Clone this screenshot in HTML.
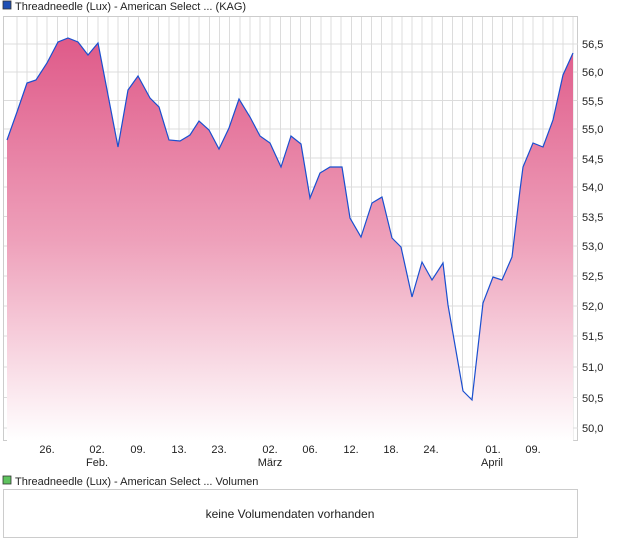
<!DOCTYPE html>
<html><head><meta charset="utf-8"><style>
body{margin:0;background:#fff;}
svg{display:block;font-family:"Liberation Sans",sans-serif;}
</style></head><body>
<svg width="620" height="546" viewBox="0 0 620 546">
<defs>
<linearGradient id="g" x1="0" y1="0" x2="0" y2="1" gradientUnits="userSpaceOnUse">
<stop offset="0" stop-color="#de5185"/>
<stop offset="0" stop-color="#de5185"/>
</linearGradient>
<linearGradient id="f" x1="0" y1="38" x2="0" y2="441" gradientUnits="userSpaceOnUse">
<stop offset="0" stop-color="#df5a89"/>
<stop offset="0.5" stop-color="#eea0ba"/>
<stop offset="1" stop-color="#ffffff"/>
</linearGradient>
</defs>
<rect x="3" y="1" width="8" height="8" fill="#1f4fb5" stroke="#333" stroke-width="0.8"/>
<text x="15" y="10" font-size="11" fill="#222">Threadneedle (Lux) - American Select ... (KAG)</text>
<rect x="3.5" y="16.5" width="574" height="424" fill="#fff" stroke="#ccc"/>
<g stroke="#dcdcdc" stroke-width="1" id="grid"></g>
<g stroke="#dcdcdc" stroke-width="1">
<line x1="4" x2="578" y1="44" y2="44"/><line x1="4" x2="578" y1="72" y2="72"/><line x1="4" x2="578" y1="100.5" y2="100.5"/><line x1="4" x2="578" y1="129" y2="129"/><line x1="4" x2="578" y1="158" y2="158"/><line x1="4" x2="578" y1="187" y2="187"/><line x1="4" x2="578" y1="216.5" y2="216.5"/><line x1="4" x2="578" y1="246" y2="246"/><line x1="4" x2="578" y1="276" y2="276"/><line x1="4" x2="578" y1="306" y2="306"/><line x1="4" x2="578" y1="336" y2="336"/><line x1="4" x2="578" y1="367" y2="367"/><line x1="4" x2="578" y1="397.5" y2="397.5"/><line x1="4" x2="578" y1="428" y2="428"/>
</g>
<g stroke="#dcdcdc" stroke-width="1">
<script>/*static*/</script>
</g>
<g stroke="#dcdcdc">
<path d="M17 17V441M27 17V441M37 17V441M47 17V441M57.5 17V441M67.5 17V441M77.5 17V441M87.5 17V441M98 17V441M108 17V441M118 17V441M128.5 17V441M138.5 17V441M148.5 17V441M158.5 17V441M169 17V441M179 17V441M189 17V441M199 17V441M209.5 17V441M219.5 17V441M229.5 17V441M240 17V441M250 17V441M260 17V441M270 17V441M280.5 17V441M290.5 17V441M300.5 17V441M310.5 17V441M321 17V441M331 17V441M341 17V441M351.5 17V441M361.5 17V441M371.5 17V441M381.5 17V441M392 17V441M402 17V441M412 17V441M422 17V441M432 17V441M442.5 17V441M452.5 17V441M462.5 17V441M472.5 17V441M482.5 17V441M492.5 17V441M502.5 17V441M512.5 17V441M523 17V441M533 17V441M543 17V441M553 17V441M563 17V441M573 17V441"/>
</g>
<path fill="url(#f)" d="M7 441L7 140L17 112L27 83L36 80L47 63L58 42L68 38L78 42L88 55L98 43L118 147L128 90L138 76L150 98L159 107L169 140L180 141L190 135L199 121L209 130L219 149L229 128L239 99L250 117L260 136L270 143L281 167L291 136L301 144L310 198L320 173L330 167L342 167L350 218L361 237L372 203L382 197L392 238L401 247L412 297L422 262L432 280L443 263L448 305L463 391L472 400L483 303L493 277L502 280L512 257L520 190L523 167L533 143L543 147L553 120L563 75L573 53L573 441Z"/>
<polyline fill="none" stroke="#1a4fcf" stroke-width="1.2" points="7,140 17,112 27,83 36,80 47,63 58,42 68,38 78,42 88,55 98,43 118,147 128,90 138,76 150,98 159,107 169,140 180,141 190,135 199,121 209,130 219,149 229,128 239,99 250,117 260,136 270,143 281,167 291,136 301,144 310,198 320,173 330,167 342,167 350,218 361,237 372,203 382,197 392,238 401,247 412,297 422,262 432,280 443,263 448,305 463,391 472,400 483,303 493,277 502,280 512,257 520,190 523,167 533,143 543,147 553,120 563,75 573,53"/>
<g font-size="11" fill="#222">
<text x="582" y="48">56,5</text><text x="582" y="76">56,0</text><text x="582" y="105">55,5</text><text x="582" y="133">55,0</text><text x="582" y="163">54,5</text><text x="582" y="191">54,0</text><text x="582" y="221">53,5</text><text x="582" y="250">53,0</text><text x="582" y="280">52,5</text><text x="582" y="310">52,0</text><text x="582" y="340">51,5</text><text x="582" y="371">51,0</text><text x="582" y="402">50,5</text><text x="582" y="432">50,0</text>
</g>
<g font-size="11" fill="#222" text-anchor="middle">
<text x="47" y="453">26.</text><text x="97" y="453">02.</text><text x="138" y="453">09.</text><text x="179" y="453">13.</text><text x="219" y="453">23.</text><text x="270" y="453">02.</text><text x="310" y="453">06.</text><text x="351" y="453">12.</text><text x="391" y="453">18.</text><text x="431" y="453">24.</text><text x="493" y="453">01.</text><text x="533" y="453">09.</text>
<text x="97" y="466">Feb.</text><text x="270" y="466">März</text><text x="492" y="466">April</text>
</g>
<rect x="3" y="476" width="8" height="8" fill="#5ec35e" stroke="#333" stroke-width="0.8"/>
<text x="15" y="485" font-size="11" fill="#222">Threadneedle (Lux) - American Select ... Volumen</text>
<rect x="3.5" y="489.5" width="574" height="48" fill="#fff" stroke="#ccc"/>
<text x="290" y="518" font-size="12" fill="#222" text-anchor="middle">keine Volumendaten vorhanden</text>
</svg>
</body></html>
